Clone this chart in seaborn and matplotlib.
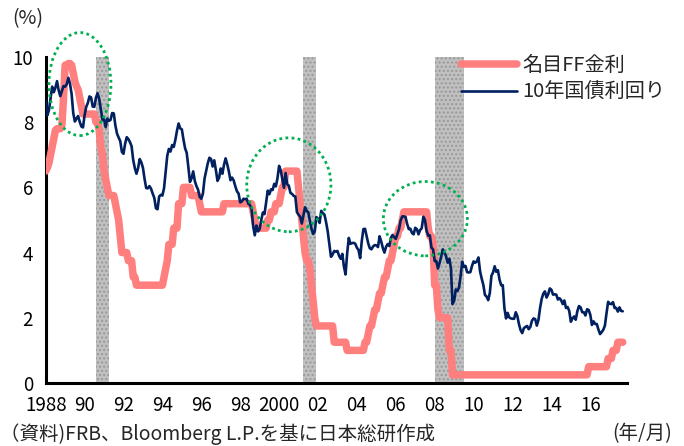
import numpy as np
import pandas as pd
import matplotlib
matplotlib.use("Agg")
import matplotlib.pyplot as plt
from matplotlib.patches import Ellipse
import seaborn as sns

# ---------------- data (monthly, Jan 1988 - Sep 2017) ----------------
start_year = 1988

ff_rate = [
    6.5, 6.6, 6.75, 7.0, 7.25, 7.5, 7.75, 7.8, 7.8, 7.8, 7.9, 8.75,            # 1988
    9.75, 9.75, 9.8, 9.8, 9.75, 9.5, 9.25, 9.1, 9.0, 8.75, 8.5, 8.25,          # 1989
    8.25, 8.25, 8.25, 8.25, 8.25, 8.25, 8.25, 8.0, 8.0, 7.75, 7.25, 7.0,       # 1990
    6.5, 6.25, 6.0, 5.75, 5.75, 5.75, 5.75, 5.5, 5.25, 5.0, 4.5, 4.0,          # 1991
    4.0, 4.0, 4.0, 3.75, 3.75, 3.75, 3.25, 3.25, 3.0, 3.0, 3.0, 3.0,           # 1992
    3.0, 3.0, 3.0, 3.0, 3.0, 3.0, 3.0, 3.0, 3.0, 3.0, 3.0, 3.0,                # 1993
    3.0, 3.25, 3.5, 3.75, 4.25, 4.25, 4.25, 4.75, 4.75, 4.75, 5.5, 5.5,        # 1994
    5.5, 6.0, 6.0, 6.0, 6.0, 6.0, 5.75, 5.75, 5.75, 5.75, 5.75, 5.5,           # 1995
    5.25, 5.25, 5.25, 5.25, 5.25, 5.25, 5.25, 5.25, 5.25, 5.25, 5.25, 5.25,    # 1996
    5.25, 5.25, 5.5, 5.5, 5.5, 5.5, 5.5, 5.5, 5.5, 5.5, 5.5, 5.5,              # 1997
    5.5, 5.5, 5.5, 5.5, 5.5, 5.5, 5.5, 5.5, 5.25, 5.0, 4.75, 4.75,             # 1998
    4.75, 4.75, 4.75, 4.75, 4.75, 5.0, 5.0, 5.25, 5.25, 5.25, 5.5, 5.5,        # 1999
    5.5, 5.75, 6.0, 6.0, 6.5, 6.5, 6.5, 6.5, 6.5, 6.5, 6.5, 6.5,               # 2000
    6.0, 5.5, 5.0, 4.5, 4.0, 3.75, 3.75, 3.5, 3.0, 2.5, 2.0, 1.75,             # 2001
    1.75, 1.75, 1.75, 1.75, 1.75, 1.75, 1.75, 1.75, 1.75, 1.75, 1.25, 1.25,    # 2002
    1.25, 1.25, 1.25, 1.25, 1.25, 1.25, 1.0, 1.0, 1.0, 1.0, 1.0, 1.0,          # 2003
    1.0, 1.0, 1.0, 1.0, 1.0, 1.25, 1.25, 1.5, 1.75, 1.75, 2.0, 2.25,           # 2004
    2.25, 2.5, 2.75, 2.75, 3.0, 3.25, 3.25, 3.5, 3.75, 3.75, 4.0, 4.25,        # 2005
    4.5, 4.5, 4.75, 4.75, 5.0, 5.25, 5.25, 5.25, 5.25, 5.25, 5.25, 5.25,       # 2006
    5.25, 5.25, 5.25, 5.25, 5.25, 5.25, 5.25, 5.25, 4.75, 4.5, 4.5, 4.25,      # 2007
    3.0, 3.0, 2.25, 2.0, 2.0, 2.0, 2.0, 2.0, 2.0, 1.0, 1.0, 0.25,              # 2008
    0.25, 0.25, 0.25, 0.25, 0.25, 0.25, 0.25, 0.25, 0.25, 0.25, 0.25, 0.25,    # 2009
    0.25, 0.25, 0.25, 0.25, 0.25, 0.25, 0.25, 0.25, 0.25, 0.25, 0.25, 0.25,    # 2010
    0.25, 0.25, 0.25, 0.25, 0.25, 0.25, 0.25, 0.25, 0.25, 0.25, 0.25, 0.25,    # 2011
    0.25, 0.25, 0.25, 0.25, 0.25, 0.25, 0.25, 0.25, 0.25, 0.25, 0.25, 0.25,    # 2012
    0.25, 0.25, 0.25, 0.25, 0.25, 0.25, 0.25, 0.25, 0.25, 0.25, 0.25, 0.25,    # 2013
    0.25, 0.25, 0.25, 0.25, 0.25, 0.25, 0.25, 0.25, 0.25, 0.25, 0.25, 0.25,    # 2014
    0.25, 0.25, 0.25, 0.25, 0.25, 0.25, 0.25, 0.25, 0.25, 0.25, 0.25, 0.5,     # 2015
    0.5, 0.5, 0.5, 0.5, 0.5, 0.5, 0.5, 0.5, 0.5, 0.5, 0.5, 0.75,               # 2016
    0.75, 0.75, 1.0, 1.0, 1.0, 1.25, 1.25, 1.25, 1.25,                         # 2017
]

ust10 = [
    8.67, 8.21, 8.37, 8.72, 9.09, 8.92, 9.06, 9.26, 8.98, 8.80, 8.96, 9.11,    # 1988
    9.09, 9.17, 9.36, 9.18, 8.86, 8.28, 8.02, 8.11, 8.19, 8.01, 7.87, 7.84,    # 1989
    8.21, 8.47, 8.59, 8.79, 8.76, 8.48, 8.47, 8.75, 8.89, 8.72, 8.39, 8.08,    # 1990
    8.09, 7.85, 8.11, 8.04, 8.07, 8.28, 8.27, 7.90, 7.65, 7.53, 7.42, 7.09,    # 1991
    7.03, 7.34, 7.54, 7.48, 7.39, 7.26, 6.84, 6.59, 6.42, 6.59, 6.87, 6.77,    # 1992
    6.60, 6.26, 5.98, 5.97, 6.04, 5.96, 5.81, 5.68, 5.36, 5.33, 5.72, 5.77,    # 1993
    5.75, 5.97, 6.48, 6.97, 7.18, 7.10, 7.30, 7.24, 7.46, 7.74, 7.96, 7.81,    # 1994
    7.78, 7.47, 7.20, 7.06, 6.63, 6.17, 6.28, 6.49, 6.20, 6.04, 5.93, 5.71,    # 1995
    5.65, 5.81, 6.27, 6.51, 6.74, 6.91, 6.87, 6.64, 6.83, 6.53, 6.20, 6.30,    # 1996
    6.58, 6.42, 6.69, 6.89, 6.71, 6.49, 6.22, 6.30, 6.21, 6.03, 5.88, 5.81,    # 1997
    5.54, 5.57, 5.65, 5.64, 5.65, 5.50, 5.46, 5.34, 4.81, 4.53, 4.83, 4.65,    # 1998
    4.72, 5.00, 5.23, 5.18, 5.54, 5.90, 5.79, 5.94, 5.92, 6.11, 6.03, 6.28,    # 1999
    6.66, 6.52, 6.26, 5.99, 6.44, 6.10, 6.05, 5.83, 5.80, 5.74, 5.72, 5.24,    # 2000
    5.16, 5.10, 4.89, 5.14, 5.39, 5.28, 5.24, 4.97, 4.73, 4.57, 4.65, 5.09,    # 2001
    5.04, 4.91, 5.28, 5.21, 5.16, 4.93, 4.65, 4.26, 3.87, 3.94, 4.05, 4.03,    # 2002
    4.05, 3.90, 3.81, 3.96, 3.57, 3.33, 3.98, 4.45, 4.27, 4.29, 4.30, 4.27,    # 2003
    4.15, 4.08, 3.83, 4.35, 4.72, 4.73, 4.50, 4.28, 4.13, 4.10, 4.19, 4.23,    # 2004
    4.22, 4.17, 4.50, 4.34, 4.14, 4.00, 4.18, 4.26, 4.20, 4.46, 4.54, 4.47,    # 2005
    4.42, 4.57, 4.72, 4.99, 5.11, 5.11, 5.09, 4.88, 4.72, 4.73, 4.60, 4.56,    # 2006
    4.76, 4.72, 4.56, 4.69, 4.75, 5.10, 5.00, 4.67, 4.52, 4.53, 4.15, 4.10,    # 2007
    3.74, 3.74, 3.51, 3.68, 3.88, 4.10, 4.01, 3.89, 3.69, 3.81, 3.53, 2.42,    # 2008
    2.52, 2.87, 2.82, 2.93, 3.29, 3.72, 3.56, 3.59, 3.40, 3.39, 3.40, 3.59,    # 2009
    3.73, 3.69, 3.73, 3.85, 3.42, 3.20, 3.01, 2.70, 2.65, 2.54, 2.76, 3.29,    # 2010
    3.39, 3.58, 3.41, 3.46, 3.17, 3.00, 3.00, 2.30, 1.98, 2.15, 2.01, 1.98,    # 2011
    1.97, 1.97, 2.17, 2.05, 1.80, 1.62, 1.53, 1.68, 1.72, 1.75, 1.65, 1.72,    # 2012
    1.91, 1.98, 1.96, 1.76, 1.93, 2.30, 2.58, 2.74, 2.81, 2.62, 2.72, 2.90,    # 2013
    2.86, 2.71, 2.72, 2.71, 2.56, 2.60, 2.54, 2.42, 2.53, 2.30, 2.33, 2.21,    # 2014
    1.88, 1.98, 2.04, 1.94, 2.20, 2.36, 2.32, 2.17, 2.17, 2.07, 2.26, 2.24,    # 2015
    2.09, 1.78, 1.89, 1.81, 1.81, 1.64, 1.50, 1.56, 1.63, 1.76, 2.14, 2.49,    # 2016
    2.43, 2.42, 2.48, 2.30, 2.30, 2.19, 2.32, 2.21, 2.20,                      # 2017
]

# recession periods (decimal years)
recessions = [(1990.58, 1991.25), (2001.24, 2001.90), (2008.00, 2009.49)]

# highlighted areas (center x, center y, width in years, height in %)
highlights = [(1989.76, 9.17, 3.19, 3.16),
              (2000.50, 6.08, 4.33, 2.88),
              (2007.52, 5.04, 4.32, 2.28)]

tick_years = [1988, 1990, 1992, 1994, 1996, 1998, 2000, 2002, 2004, 2006,
              2008, 2010, 2012, 2014, 2016]
tick_labels = ["1988", "90", "92", "94", "96", "98", "2000", "02", "04", "06",
               "08", "10", "12", "14", "16"]
y_ticks = [0, 2, 4, 6, 8, 10]

label_ff = "名目FF金利"
label_ust = "10年国債利回り"

# ---------------- styling ----------------
sns.set_style("white")
plt.rcParams["font.family"] = ["Noto Sans CJK JP", "DejaVu Sans"]

RED = "#FF7F7F"
NAVY = "#002060"
GREEN = "#00B050"

n = len(ust10)
df = pd.DataFrame({
    "year": start_year + np.arange(n) / 12.0,
    "ff": ff_rate[:n],
    "ust": ust10,
})

fig = plt.figure(figsize=(6.84, 4.46), dpi=100)
ax = fig.add_axes([0.0668, 0.1413, 0.9162 - 0.0668, 0.8722 - 0.1413])

for a, b in recessions:
    ax.axvspan(a, b, ymin=0, ymax=1, facecolor="#C0C0C0", edgecolor="#989898",
               hatch="....", linewidth=0, zorder=1)

sns.lineplot(data=df, x="year", y="ff", ax=ax, color=RED, linewidth=5.4,
             solid_capstyle="round", solid_joinstyle="round", label=label_ff, zorder=3)
sns.lineplot(data=df, x="year", y="ust", ax=ax, color=NAVY, linewidth=1.9,
             solid_joinstyle="round", label=label_ust, zorder=4)

for cx, cy, w, h in highlights:
    e = Ellipse((cx, cy), w, h, fill=False, edgecolor=GREEN, linewidth=2.0,
                linestyle=(0, (1, 1.2)), zorder=5, clip_on=False)
    ax.add_patch(e)

ax.set_xlim(1988, 2017.87)
ax.set_ylim(0, 10)
ax.set_xticks(tick_years)
ax.set_xticklabels(tick_labels)
ax.set_yticks(y_ticks)
ax.set_yticklabels([str(v) for v in y_ticks])
ax.set_xlabel("")
ax.set_ylabel("")

for s in ["top", "right"]:
    ax.spines[s].set_visible(False)
for s in ["left", "bottom"]:
    ax.spines[s].set_linewidth(2.2)
    ax.spines[s].set_color("black")

ax.tick_params(axis="y", direction="in", length=4, width=1.6, labelsize=13.5,
               pad=9, colors="black")
ax.tick_params(axis="x", direction="out", length=3.5, width=1.6, labelsize=13.5,
               pad=5, colors="black")

leg = ax.legend(loc="upper left", bbox_to_anchor=(461 / 684, 1 - 55 / 446),
                bbox_transform=fig.transFigure, frameon=False, fontsize=14.5,
                handlelength=2.8, handletextpad=0.25, labelspacing=0.3,
                borderpad=0, borderaxespad=0)

fig.text(12 / 684, 1 - 19 / 446, "(%)", fontsize=14, va="center", ha="left")
fig.text(0.0, 1 - 423 / 446, "（資料)FRB、Bloomberg L.P.を基に日本総研作成",
         fontsize=14, va="top", ha="left")
fig.text(672 / 684, 1 - 423 / 446, "(年/月)", fontsize=14, va="top", ha="right")

fig.savefig("out.png", dpi=100)
